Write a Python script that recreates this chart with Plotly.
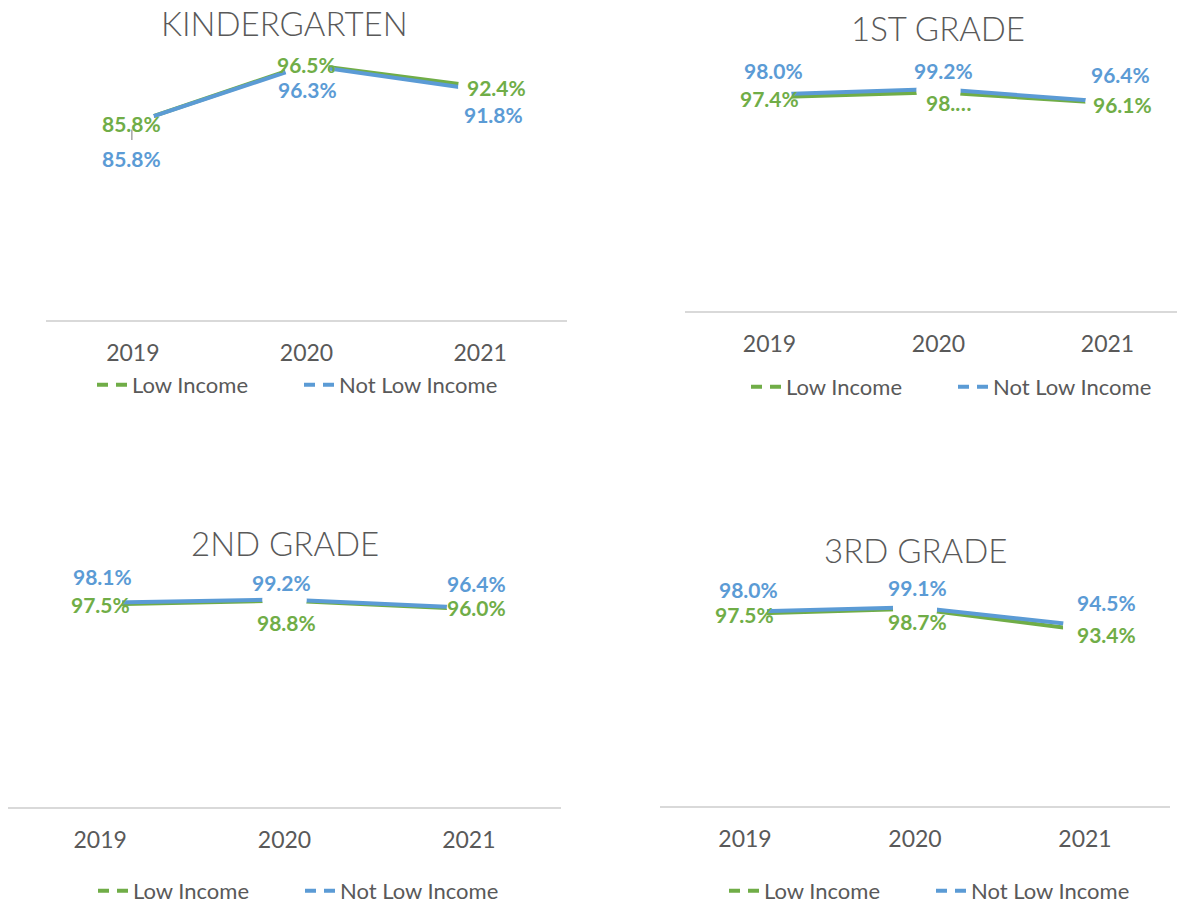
import plotly.graph_objects as go

# ---------------- data ----------------
years = ["2019", "2020", "2021"]
titles = ["KINDERGARTEN", "1ST GRADE", "2ND GRADE", "3RD GRADE"]
series_names = ["Low Income", "Not Low Income"]

k_low = [85.8, 96.5, 92.4]
k_not = [85.8, 96.3, 91.8]
g1_low = [97.4, 98.5, 96.1]
g1_not = [98.0, 99.2, 96.4]
g2_low = [97.5, 98.8, 96.0]
g2_not = [98.1, 99.2, 96.4]
g3_low = [97.5, 98.7, 93.4]
g3_not = [98.0, 99.1, 94.5]

# label text overrides (label truncated in the original chart)
g1_low_text = ["97.4%", "98.…", "96.1%"]

panels_low = [k_low, g1_low, g2_low, g3_low]
panels_not = [k_not, g1_not, g2_not, g3_not]

# ---------------- style ----------------
W, H = 1177, 907
FIG_H = 912
GREEN = "#70AD47"
BLUE = "#5B9BD5"
GREY = "#595959"
FONT = "Lato, Calibri, Carlito, sans-serif"


def px(x):
    return x / W


def py(y):
    return 1 - y / H


panel_geo = [
    dict(x0=46, x1=567, base=320, top=45, yr=[50, 100], xr=[-0.5, 2.5]),
    dict(x0=685, x1=1177, base=311, top=85.5, yr=[50, 100], xr=[-0.5, -0.5 + 492 / 169]),
    dict(x0=8, x1=561, base=807, top=597, yr=[30, 100], xr=[-0.5, 2.5]),
    dict(x0=660, x1=1170, base=806, top=603.5, yr=[50, 100], xr=[-0.5, 2.5]),
]
title_pos = [(284, 23), (938, 28), (285, 543), (915, 550)]
legend_pos = [(92, 385), (746, 387), (93, 891), (724, 891)]

# label offsets (dx right, dy down) in pixels
low_off = [
    [(-1, 0), (0, 0), (16, 1)],
    [(0, 1), (10, 10), (15, 1)],
    [(0, 0), (2, 22), (8, -2)],
    [(0, 1), (3, 13), (21, 4)],
]
not_off = [
    [(-1, 35), (1, 24), (13, 24)],
    [(4, -24), (5, -19), (13, -27)],
    [(2, -26), (-3, -17), (8, -24)],
    [(4, -22), (3, -20), (21, -23)],
]

fig = go.Figure()
annotations = []

for i in range(4):
    xa = "x" if i == 0 else f"x{i+1}"
    ya = "y" if i == 0 else f"y{i+1}"
    leg = "legend" if i == 0 else f"legend{i+1}"
    low = panels_low[i]
    nl = panels_not[i]

    fig.add_trace(go.Scatter(x=years, y=low, mode="lines", xaxis=xa, yaxis=ya,
                             line=dict(color=GREEN, width=4), showlegend=False,
                             hoverinfo="skip"))
    fig.add_trace(go.Scatter(x=years, y=nl, mode="lines", xaxis=xa, yaxis=ya,
                             line=dict(color=BLUE, width=4), showlegend=False,
                             hoverinfo="skip"))
    # white point markers that break the lines around each point, as in the original
    fig.add_trace(go.Scatter(x=years + years, y=low + nl, mode="markers",
                             xaxis=xa, yaxis=ya, showlegend=False, hoverinfo="skip",
                             marker=dict(color="white", size=44, line=dict(width=0))))
    for name, col in zip(series_names, [GREEN, BLUE]):
        fig.add_trace(go.Scatter(x=[None], y=[None], mode="lines", xaxis=xa, yaxis=ya,
                                 name=name, legend=leg,
                                 line=dict(color=col, width=4, dash="11px,8px")))

    g = panel_geo[i]
    axis_suffix = "" if i == 0 else str(i + 1)
    fig.update_layout(**{
        f"xaxis{axis_suffix}": dict(
            domain=[px(g["x0"]), px(g["x1"])], anchor=ya, type="category",
            categoryorder="array", categoryarray=years, range=g["xr"],
            showline=True, linecolor="#D9D9D9", linewidth=1.5, ticks="",
            showgrid=False, zeroline=False, ticklabelstandoff=12,
            tickfont=dict(family=FONT, size=23, color=GREY), fixedrange=True),
        f"yaxis{axis_suffix}": dict(
            domain=[py(g["base"]), py(g["top"])], anchor=xa, range=g["yr"],
            showgrid=False, zeroline=False, showline=False, showticklabels=False,
            ticks="", fixedrange=True),
        leg: dict(orientation="h", x=px(legend_pos[i][0]), y=py(legend_pos[i][1]),
                  xanchor="left", yanchor="middle", bgcolor="rgba(0,0,0,0)",
                  entrywidth=162, entrywidthmode="pixels",
                  font=dict(family=FONT, size=22, color=GREY),
                  itemclick=False, itemdoubleclick=False),
    })

    low_text = g1_low_text if i == 1 else [f"{v:.1f}%" for v in low]
    not_text = [f"{v:.1f}%" for v in nl]
    for vals, texts, offs, col in [(low, low_text, low_off[i], GREEN),
                                   (nl, not_text, not_off[i], BLUE)]:
        for j, v in enumerate(vals):
            dx, dy = offs[j]
            annotations.append(dict(
                x=j, y=v, xref=xa, yref=ya, text="<b>" + texts[j] + "</b>",
                showarrow=False, xshift=dx, yshift=-dy, borderpad=0,
                font=dict(family=FONT, size=21, color=col)))

    tx, ty = title_pos[i]
    annotations.append(dict(
        x=px(tx), y=py(ty), xref="paper", yref="paper", text=titles[i],
        showarrow=False, xanchor="center", yanchor="middle",
        font=dict(family="Lato Light, Lato, sans-serif", size=33, color=GREY)))

# small grey leader line under the first kindergarten label
annotations.append(dict(
    x=0, y=k_not[0], xref="x", yref="y", text="", showarrow=True, arrowhead=0,
    arrowwidth=1.5, arrowcolor="#A6A6A6", ax=0, ay=-12, xshift=-1, yshift=-17,
    standoff=0, startstandoff=0))

fig.update_layout(
    width=W, height=FIG_H, margin=dict(l=0, r=0, t=0, b=0),
    paper_bgcolor="white", plot_bgcolor="white",
    annotations=annotations, showlegend=True,
)

fig.write_html(
    "out.html",
    config={"displayModeBar": False},
    post_script=(
        "document.documentElement.style.margin='0';"
        "document.body.style.margin='0';"
    ),
)
